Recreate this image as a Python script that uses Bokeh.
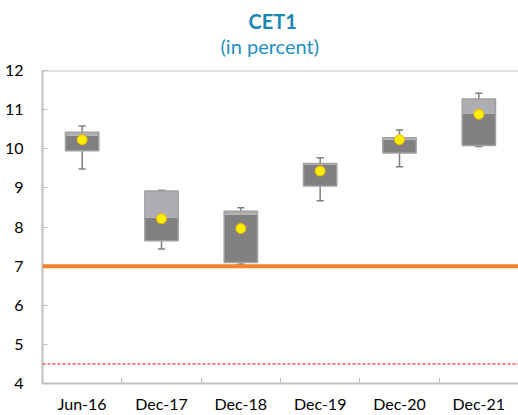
from bokeh.plotting import figure
from bokeh.models import Range1d, FixedTicker, Span, Title
from bokeh.embed import file_html
from bokeh.resources import INLINE

categories = ["Jun-16", "Dec-17", "Dec-18", "Dec-19", "Dec-20", "Dec-21"]
whisker_low = [9.48, 7.44, 7.05, 8.67, 9.54, 10.06]
q1 = [9.95, 7.65, 7.09, 9.05, 9.89, 10.08]
median = [10.34, 8.24, 8.31, 9.60, 10.23, 10.90]
q3 = [10.42, 8.92, 8.40, 9.62, 10.28, 11.27]
whisker_high = [10.58, 8.94, 8.49, 9.77, 10.48, 11.42]
mean = [10.23, 8.21, 7.96, 9.43, 10.23, 10.88]
orange_level = 7.0
red_level = 4.5
y_ticks = [4, 5, 6, 7, 8, 9, 10, 11, 12]
title_text = "CET1"
subtitle_text = "(in percent)"

FONT = "Lato"
xs = [i + 0.5 for i in range(len(categories))]
cap_half = 0.045
box_w = 0.42

p = figure(width=518, height=415, output_backend="svg", toolbar_location=None,
           x_range=Range1d(0, len(categories)), y_range=Range1d(4, 12),
           min_border_left=42, min_border_right=0, min_border_bottom=0, min_border_top=0)
p.outline_line_color = None
p.xgrid.visible = False
p.ygrid.visible = False

# titles (added closest-to-frame first)
spacer = Title(text=" ", text_font_size="1px", standoff=17)
sub = Title(text=subtitle_text, align="left", offset=178, text_font=FONT, text_font_size="20px",
            text_font_style="normal", text_color="#1f8fbf", standoff=-14)
main = Title(text=title_text, align="left", offset=206, text_font=FONT, text_font_size="20px",
             text_font_style="bold", text_color="#1a86b5", standoff=12)
p.add_layout(spacer, "above")
p.add_layout(sub, "above")
p.add_layout(main, "above")

# whiskers
p.segment(x0=xs, y0=whisker_low, x1=xs, y1=whisker_high, line_color="#7f7f7f", line_width=1.5)
p.segment(x0=[x - cap_half for x in xs], y0=whisker_high, x1=[x + cap_half for x in xs],
          y1=whisker_high, line_color="#7f7f7f", line_width=1.5)
p.segment(x0=[x - cap_half for x in xs], y0=whisker_low, x1=[x + cap_half for x in xs],
          y1=whisker_low, line_color="#7f7f7f", line_width=1.5)

# boxes
p.vbar(x=xs, width=box_w, bottom=q1, top=median, fill_color="#808080", line_color=None)
p.vbar(x=xs, width=box_w, bottom=median, top=q3, fill_color="#aeaeb2", line_color=None)
p.vbar(x=xs, width=box_w, bottom=q1, top=q3, fill_color=None, line_color="#a0a0a0", line_width=1.5)

# reference lines
p.add_layout(Span(location=orange_level, dimension="width", line_color="#f5822a", line_width=4))
p.add_layout(Span(location=red_level, dimension="width", line_color="#ff0000", line_width=1,
                  line_dash="3 2"))
p.add_layout(Span(location=12, dimension="width", line_color="#c0c0c0", line_width=2))

# means
p.scatter(x=xs, y=mean, size=10, fill_color="#ffee00", line_color="#f5b800", line_width=1)

# y axis
ya = p.yaxis[0]
ya.ticker = FixedTicker(ticks=y_ticks)
ya.major_tick_in = 5
ya.major_tick_out = 0
ya.minor_tick_line_color = None
ya.axis_line_color = "#bfbfbf"
ya.axis_line_width = 2
ya.major_tick_line_color = "#bfbfbf"
ya.major_label_text_font = FONT
ya.major_label_text_font_size = "16px"
ya.major_label_text_color = "#000000"
ya.major_label_standoff = 19

# x axis
xa = p.xaxis[0]
xa.ticker = FixedTicker(ticks=xs, minor_ticks=list(range(len(categories) + 1)))
xa.major_label_overrides = {x: c for x, c in zip(xs, categories)}
xa.major_tick_in = 0
xa.major_tick_out = 0
xa.minor_tick_in = 6
xa.minor_tick_out = 0
xa.minor_tick_line_color = "#bfbfbf"
xa.axis_line_color = "#bfbfbf"
xa.axis_line_width = 2
xa.major_label_text_font = FONT
xa.major_label_text_font_size = "16px"
xa.major_label_text_color = "#000000"
xa.major_label_standoff = 10

open("out.html", "w").write(file_html(p, INLINE))
